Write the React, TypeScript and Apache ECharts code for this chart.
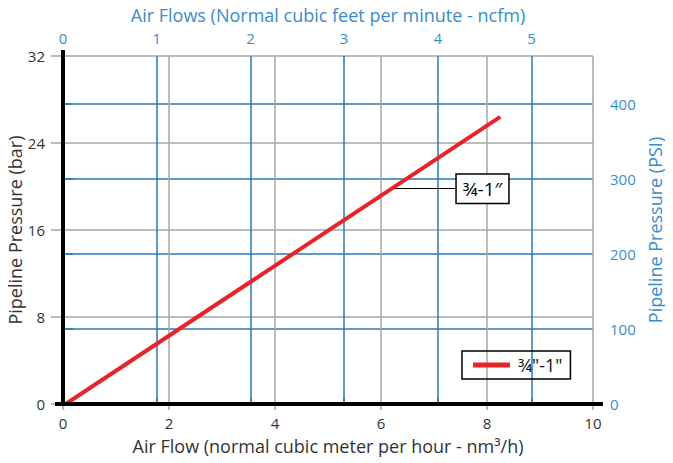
import React, { useEffect, useRef } from "react";
import * as echarts from "echarts";

// ---- data ----
const flowTicksM3h = [0, 2, 4, 6, 8, 10];
const pressureTicksBar = [0, 8, 16, 24, 32];
const seriesName = '¾"-1"';
const flowM3h = [0.05, 8.25];
const pressureBar = [0, 26.4];
const calloutText = "¾-1″";
const calloutFrom = [6.26, 19.8];
const calloutTo = [7.43, 19.8];
const BAR_TO_PSI = 14.5038;
const NCFM_AXIS_MAX = 5.656;

const FONT = "Open Sans";
const BLUE_LINE = "#2a78b4";
const BLUE_TEXT = "#3b8cc8";
const GRAY = "#a6a6a6";
const DARK = "#333333";

export default function App() {
  const ref = useRef<HTMLDivElement>(null);
  useEffect(() => {
    if (!ref.current) return;
    const chart = echarts.init(ref.current, undefined, { renderer: "svg" });
    const barMax = pressureTicksBar[pressureTicksBar.length - 1];
    const xMax = flowTicksM3h[flowTicksM3h.length - 1];
    const points = flowM3h.map((x, i) => [x, pressureBar[i]]);
    chart.setOption({
      animation: false,
      textStyle: { fontFamily: FONT },
      grid: {
        left: 63,
        right: 80,
        top: 56,
        bottom: 59,
        containLabel: false,
        outerBoundsMode: "none",
      },
      legend: {
        left: 462,
        top: 351,
        icon: "rect",
        itemWidth: 37,
        itemHeight: 5,
        borderColor: "#000",
        borderWidth: 1.5,
        borderRadius: 0,
        padding: [5, 8, 5, 11],
        textStyle: { fontSize: 18, color: "#111", fontFamily: FONT, padding: [0, 6, 0, 3] },
        data: [seriesName],
      },
      xAxis: [
        {
          type: "value",
          position: "bottom",
          min: 0,
          max: xMax,
          interval: 2,
          name: "Air Flow (normal cubic meter per hour - nm³/h)",
          nameLocation: "middle",
          nameGap: 33,
          nameMoveOverlap: false,
          nameTextStyle: { fontSize: 18, color: DARK, fontFamily: FONT },
          axisLine: { show: true, onZero: false, lineStyle: { color: "#000", width: 4 } },
          axisTick: { show: true, length: 6, lineStyle: { color: GRAY, width: 1.5 } },
          axisLabel: { fontSize: 15, color: DARK, margin: 11 },
          splitLine: { show: true, lineStyle: { color: GRAY, width: 1.5 } },
        },
        {
          type: "value",
          position: "top",
          min: 0,
          max: NCFM_AXIS_MAX,
          interval: 1,
          name: "Air Flows (Normal cubic feet per minute - ncfm)",
          nameLocation: "middle",
          nameGap: 32,
          nameMoveOverlap: false,
          nameTextStyle: { fontSize: 18, color: BLUE_TEXT, fontFamily: FONT },
          axisLine: { show: false },
          axisTick: { show: true, length: 6, lineStyle: { color: BLUE_LINE, width: 1.5 } },
          axisLabel: { fontSize: 15, color: BLUE_TEXT, margin: 11, showMaxLabel: false },
          splitLine: {
            show: true,
            showMinLine: false,
            showMaxLine: false,
            lineStyle: { color: BLUE_LINE, width: 1.5 },
          },
        },
      ],
      yAxis: [
        {
          type: "value",
          position: "left",
          min: 0,
          max: barMax,
          interval: 8,
          name: "Pipeline Pressure (bar)",
          nameLocation: "middle",
          nameGap: 39,
          nameMoveOverlap: false,
          nameTextStyle: { fontSize: 18, color: DARK, fontFamily: FONT },
          axisLine: { show: true, onZero: false, lineStyle: { color: "#000", width: 4 } },
          axisTick: { show: true, length: 12, lineStyle: { color: GRAY, width: 1.5 } },
          axisLabel: { fontSize: 15, color: DARK, margin: 18 },
          splitLine: { show: true, lineStyle: { color: GRAY, width: 1.5 } },
        },
        {
          type: "value",
          position: "right",
          min: 0,
          max: barMax * BAR_TO_PSI,
          interval: 100,
          name: "Pipeline Pressure (PSI)",
          nameLocation: "middle",
          nameGap: 53,
          nameMoveOverlap: false,
          nameTextStyle: { fontSize: 18, color: BLUE_TEXT, fontFamily: FONT },
          axisLine: { show: false },
          axisTick: { show: true, length: 10, lineStyle: { color: BLUE_LINE, width: 1.5 } },
          axisLabel: { fontSize: 15, color: BLUE_TEXT, margin: 17, showMaxLabel: false },
          splitLine: {
            show: true,
            showMinLine: false,
            showMaxLine: false,
            lineStyle: { color: BLUE_LINE, width: 1.5 },
          },
        },
      ],
      series: [
        {
          name: seriesName,
          type: "line",
          xAxisIndex: 0,
          yAxisIndex: 0,
          data: points,
          showSymbol: false,
          symbol: "none",
          lineStyle: { color: "#e8242b", width: 4 },
          itemStyle: { color: "#e8242b" },
          z: 5,
          markLine: {
            silent: true,
            symbol: ["none", "none"],
            lineStyle: { color: "#000", width: 1.2, type: "solid" },
            label: {
              show: true,
              position: "end",
              formatter: calloutText,
              distance: 0,
              backgroundColor: "#fff",
              borderColor: "#000",
              borderWidth: 1.5,
              padding: [5, 6, 4, 6],
              fontSize: 19,
              color: "#000",
              fontFamily: FONT,
            },
            emphasis: { disabled: true },
            data: [[{ coord: calloutFrom }, { coord: calloutTo }]],
          },
        },
      ],
    });
    // extend the black axis lines slightly beyond the plot area, as in the reference
    const p0 = chart.convertToPixel({ xAxisIndex: 0, yAxisIndex: 0 }, [0, 0]) as number[];
    const p1 = chart.convertToPixel({ xAxisIndex: 0, yAxisIndex: 0 }, [xMax, barMax]) as number[];
    chart.setOption({
      graphic: [
        {
          type: "line",
          z: 10,
          shape: { x1: p0[0] - 8, y1: p0[1], x2: p1[0] + 10, y2: p0[1] },
          style: { stroke: "#000", lineWidth: 4 },
          silent: true,
        },
        {
          type: "line",
          z: 10,
          shape: { x1: p0[0], y1: p0[1], x2: p0[0], y2: p1[1] - 6 },
          style: { stroke: "#000", lineWidth: 4 },
          silent: true,
        },
      ],
    });
    return () => chart.dispose();
  }, []);
  return <div ref={ref} style={{ width: 673, height: 463, marginLeft: -8, marginTop: -8 }} />;
}
